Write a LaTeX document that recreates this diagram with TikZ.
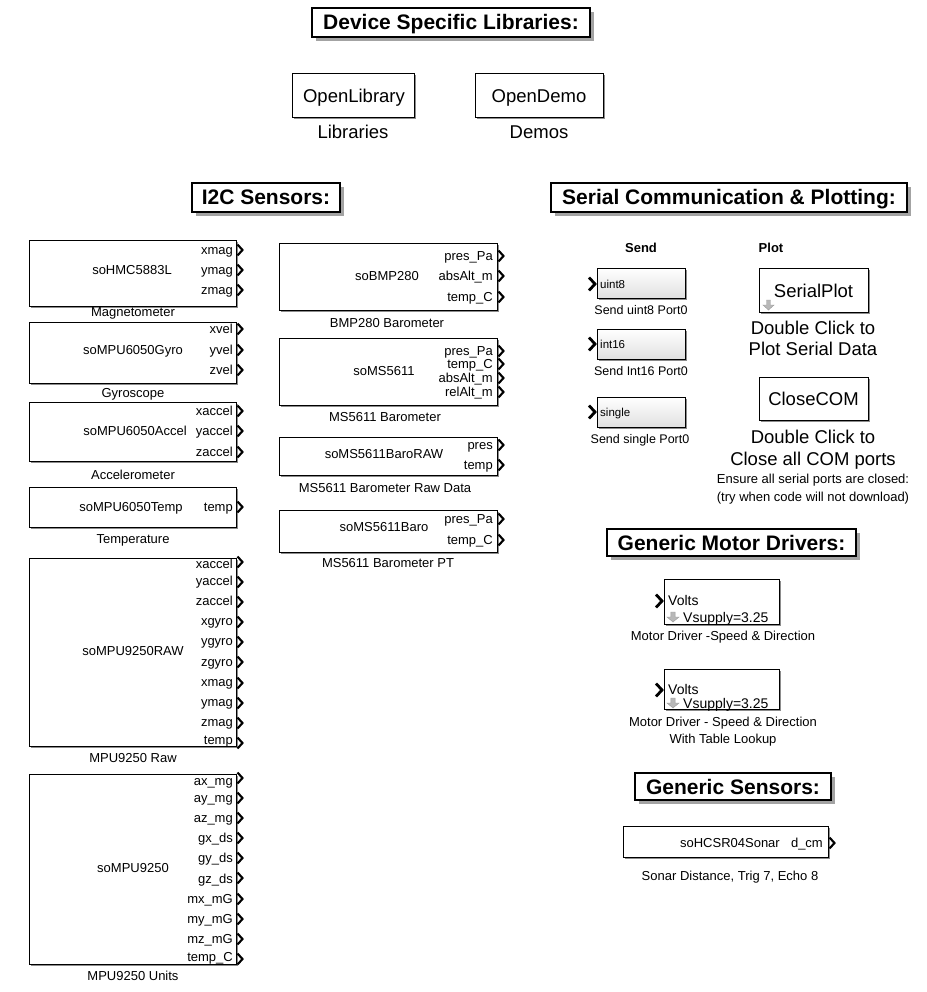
\documentclass[tikz,border=0pt]{standalone}
\usepackage{fontspec}
\setmainfont{Liberation Sans}
\usetikzlibrary{shadows}
\newcommand\fsz[1]{\fontsize{#1}{#1}\selectfont}
% box from corners (x1,y1)-(x2,y2)
\newcommand\mkblock[6][blk]{\node[#1, minimum width={(#4-#2)*1pt}, minimum height={(#5-#3)*1pt}] (#6) at ({(#2+#4)/2},{(#3+#5)/2}) {};}
% output port chevron at right edge x, height y
\newcommand\oport[2]{\draw[portst] (#1+1.5,#2-5.5) -- (#1+6.5,#2) -- (#1+1.5,#2+5.5);}
% input port chevron left of edge x
\newcommand\iport[2]{\draw[inportst] (#1-8,#2-6.5) -- (#1-2,#2) -- (#1-8,#2+6.5);}
% grey down arrow, top-left corner (x,y), width w, height h
\newcommand\garr[4]{\draw[garrst] (#1+#3*0.32,#2) -- (#1+#3*0.68,#2) -- (#1+#3*0.68,#2+#4*0.5) -- (#1+#3,#2+#4*0.5) -- (#1+#3*0.5,#2+#4) -- (#1,#2+#4*0.5) -- (#1+#3*0.32,#2+#4*0.5) -- cycle;}
\begin{document}
\begin{tikzpicture}[x=1pt,y=-1pt,
  blk/.style={draw=black, line width=0.9pt, fill=white, inner sep=0pt,
    drop shadow={shadow xshift=2pt, shadow yshift=-2pt, fill=black!60, opacity=0.75}},
  sendbox/.style={draw=black, line width=0.9pt, top color=white, bottom color=black!12, inner sep=0pt,
    drop shadow={shadow xshift=2pt, shadow yshift=-2pt, fill=black!60, opacity=0.75}},
  ttl/.style={draw=black, line width=1.1pt, fill=white, inner sep=0pt,
    font=\bfseries\fsz{21}, text height=15pt, text depth=0pt,
    drop shadow={shadow xshift=4pt, shadow yshift=-4pt, fill=black!60, opacity=0.6}},
  portst/.style={draw=black, line width=2.1pt, line join=miter},
  inportst/.style={draw=black, line width=2.8pt, line join=miter},
  garrst/.style={fill=black!28, draw=black!40, line width=0.4pt},
  txt/.style={inner sep=0pt, text depth=0pt},
  t13/.style={txt, font=\fsz{13}, text height=9.3pt},
  t12/.style={txt, font=\fsz{12.5}, text height=9pt},
  t115/.style={txt, font=\fsz{11.5}, text height=8.2pt},
  t14/.style={txt, font=\fsz{14}, text height=10pt},
  tbig/.style={txt, font=\fsz{18.5}, text height=13.3pt},
  hdr/.style={txt, font=\bfseries\fsz{13}, text height=9.3pt},
  pl/.style={t13, anchor=east},
]
\useasboundingbox[fill=white] (0,0) rectangle (926,992);

% ---------- titles ----------
\node[ttl, minimum width=278pt, minimum height=29pt] (tDev) at (451,22.5) {Device Specific Libraries:};
\node[ttl, minimum width=148pt, minimum height=29pt] (tI2C) at (266,197.5) {I2C Sensors:};
\node[ttl, minimum width=356pt, minimum height=29pt] (tSer) at (729,197.5) {Serial Communication \& Plotting:};
\node[ttl, minimum width=249pt, minimum height=27pt] (tMot) at (731.5,542.5) {Generic Motor Drivers:};
\node[ttl, minimum width=196pt, minimum height=27pt] (tGen) at (733,786.5) {Generic Sensors:};

% ---------- libraries / demos ----------
\mkblock{292}{73}{414}{117}{openlib}
\node[tbig] (openlibT) at (354,96) {OpenLibrary};
\node[tbig] (openlibL) at (353,132) {Libraries};
\mkblock{475}{73}{603}{117}{opendemo}
\node[tbig] (opendemoT) at (539,96) {OpenDemo};
\node[tbig] (opendemoL) at (539,132) {Demos};

% ---------- left column ----------
\mkblock{29}{240}{236}{306}{mag}
\node[t13] (magT) at (132,270) {soHMC5883L};
\node[pl] at (233,250) {xmag};  \oport{236}{250}
\node[pl] at (233,270) {ymag};  \oport{236}{270}
\node[pl] at (233,290) {zmag};  \oport{236}{290}
\node[t13] (magL) at (133,312) {Magnetometer};

\mkblock{29}{322}{236}{383}{gyro}
\node[t13] (gyroT) at (133,350) {soMPU6050Gyro};
\node[pl] at (233,329) {xvel};  \oport{236}{329}
\node[pl] at (233,350) {yvel};  \oport{236}{350}
\node[pl] at (233,370) {zvel};  \oport{236}{370}
\node[t13] (gyroL) at (133,393) {Gyroscope};

\mkblock{29}{402}{236}{461}{acc}
\node[t13] (accT) at (135,431) {soMPU6050Accel};
\node[pl] at (233,411) {xaccel};  \oport{236}{411}
\node[pl] at (233,431) {yaccel};  \oport{236}{431}
\node[pl] at (233,452) {zaccel};  \oport{236}{452}
\node[t13] (accL) at (133,475) {Accelerometer};

\mkblock{29}{487}{236}{527}{tmp}
\node[t13] (tmpT) at (131,507) {soMPU6050Temp};
\node[pl] at (233,507) {temp};  \oport{236}{507}
\node[t13] (tmpL) at (133,539) {Temperature};

\mkblock{29}{558}{236}{746}{raw}
\node[t13] (rawT) at (133,651) {soMPU9250RAW};
\node[pl] at (233,564) {xaccel};  \oport{236}{562}
\node[pl] at (233,581) {yaccel};  \oport{236}{582}
\node[pl] at (233,601) {zaccel};  \oport{236}{602}
\node[pl] at (233,621) {xgyro};   \oport{236}{622}
\node[pl] at (233,641) {ygyro};   \oport{236}{642}
\node[pl] at (233,662) {zgyro};   \oport{236}{662}
\node[pl] at (233,682) {xmag};    \oport{236}{683}
\node[pl] at (233,702) {ymag};    \oport{236}{703}
\node[pl] at (233,722) {zmag};    \oport{236}{723}
\node[pl] at (233,740) {temp};    \oport{236}{743}
\node[t13] (rawL) at (133,758) {MPU9250 Raw};

\mkblock{29}{774}{236}{964}{units}
\node[t13] (unitsT) at (133,868) {soMPU9250};
\node[pl] at (233,781) {ax\_mg};  \oport{236}{778}
\node[pl] at (233,798) {ay\_mg};  \oport{236}{798}
\node[pl] at (233,818) {az\_mg};  \oport{236}{818}
\node[pl] at (233,838) {gx\_ds};  \oport{236}{838}
\node[pl] at (233,858) {gy\_ds};  \oport{236}{858}
\node[pl] at (233,879) {gz\_ds};  \oport{236}{878}
\node[pl] at (233,899) {mx\_mG};  \oport{236}{899}
\node[pl] at (233,919) {my\_mG};  \oport{236}{919}
\node[pl] at (233,939) {mz\_mG};  \oport{236}{939}
\node[pl] at (233,957) {temp\_C}; \oport{236}{959}
\node[t13] (unitsL) at (133,976) {MPU9250 Units};

% ---------- middle column ----------
\mkblock{279}{243}{497}{310}{bmp}
\node[t13] (bmpT) at (387,276) {soBMP280};
\node[pl] at (493,256) {pres\_Pa};  \oport{497}{256}
\node[pl] at (493,276) {absAlt\_m}; \oport{497}{276}
\node[pl] at (493,297) {temp\_C};   \oport{497}{297}
\node[t13] (bmpL) at (387,323) {BMP280 Barometer};

\mkblock{279}{338}{497}{405}{ms}
\node[t13] (msT) at (384,371) {soMS5611};
\node[pl] at (493,351) {pres\_Pa};  \oport{497}{351}
\node[pl] at (493,364) {temp\_C};   \oport{497}{364}
\node[pl] at (493,378) {absAlt\_m}; \oport{497}{378}
\node[pl] at (493,392) {relAlt\_m}; \oport{497}{392}
\node[t13] (msL) at (385,417) {MS5611 Barometer};

\mkblock{279}{437}{497}{475}{msraw}
\node[t13] (msrawT) at (384,454) {soMS5611BaroRAW};
\node[pl] at (493,445) {pres};  \oport{497}{445}
\node[pl] at (493,465) {temp};  \oport{497}{465}
\node[t13] (msrawL) at (385,488) {MS5611 Barometer Raw Data};

\mkblock{279}{510}{497}{552}{mspt}
\node[t13] (msptT) at (384,527) {soMS5611Baro};
\node[pl] at (493,519) {pres\_Pa};  \oport{497}{519}
\node[pl] at (493,540) {temp\_C};   \oport{497}{540}
\node[t13] (msptL) at (388,563) {MS5611 Barometer PT};

% ---------- serial ----------
\node[hdr] (sendH) at (641,248) {Send};
\node[hdr] (plotH) at (771,248) {Plot};

\mkblock[sendbox]{597}{268}{685}{298}{s8}
\iport{597}{284}
\node[t115, anchor=west] at (600,284) {uint8};
\node[t12] (s8L) at (641,310) {Send uint8 Port0};

\mkblock[sendbox]{597}{329}{685}{359}{s16}
\iport{597}{344}
\node[t115, anchor=west] at (600,344) {int16};
\node[t12] (s16L) at (641,371) {Send Int16 Port0};

\mkblock[sendbox]{597}{397}{685}{427}{ssg}
\iport{597}{412}
\node[t115, anchor=west] at (600,412) {single};
\node[t12] (ssgL) at (640,439) {Send single Port0};

\mkblock{759}{268}{868}{312}{splot}
\node[tbig] (splotT) at (813.5,291) {SerialPlot};
\garr{763}{300}{11}{10}
\node[tbig] (splotL1) at (813,328) {Double Click to};
\node[tbig] (splotL2) at (813,349) {Plot Serial Data};

\mkblock{759}{377}{868}{420}{ccom}
\node[tbig] (ccomT) at (813.5,399) {CloseCOM};
\node[tbig] (ccomL1) at (813,437) {Double Click to};
\node[tbig] (ccomL2) at (813,459) {Close all COM ports};
\node[t13] (ccomL3) at (813,479) {Ensure all serial ports are closed:};
\node[t13] (ccomL4) at (813,497) {(try when code will not download)};

% ---------- motor drivers ----------
\mkblock{664}{579}{779}{624}{mot1}
\iport{664}{601}
\node[t14, anchor=west] at (668,600) {Volts};
\garr{667}{612}{12}{10}
\node[t14, anchor=west] at (683,617) {Vsupply=3.25};
\node[t13] (mot1L) at (723,636) {Motor Driver -Speed \& Direction};

\mkblock{664}{669}{779}{709}{mot2}
\iport{664}{690}
\node[t14, anchor=west] at (668,689) {Volts};
\garr{667}{698}{12}{10}
\node[t14, anchor=west] at (683,703) {Vsupply=3.25};
\node[t13] (mot2L1) at (723,722) {Motor Driver - Speed \& Direction};
\node[t13] (mot2L2) at (723,739) {With Table Lookup};

% ---------- sonar ----------
\mkblock{623}{826}{828}{857}{sonar}
\node[t13, anchor=east] (sonarT) at (780,843) {soHCSR04Sonar};
\node[pl] at (823,843) {d\_cm};  \oport{828}{843}
\node[t13] (sonarL) at (730,876) {Sonar Distance, Trig 7, Echo 8};
\end{tikzpicture}
\end{document}
